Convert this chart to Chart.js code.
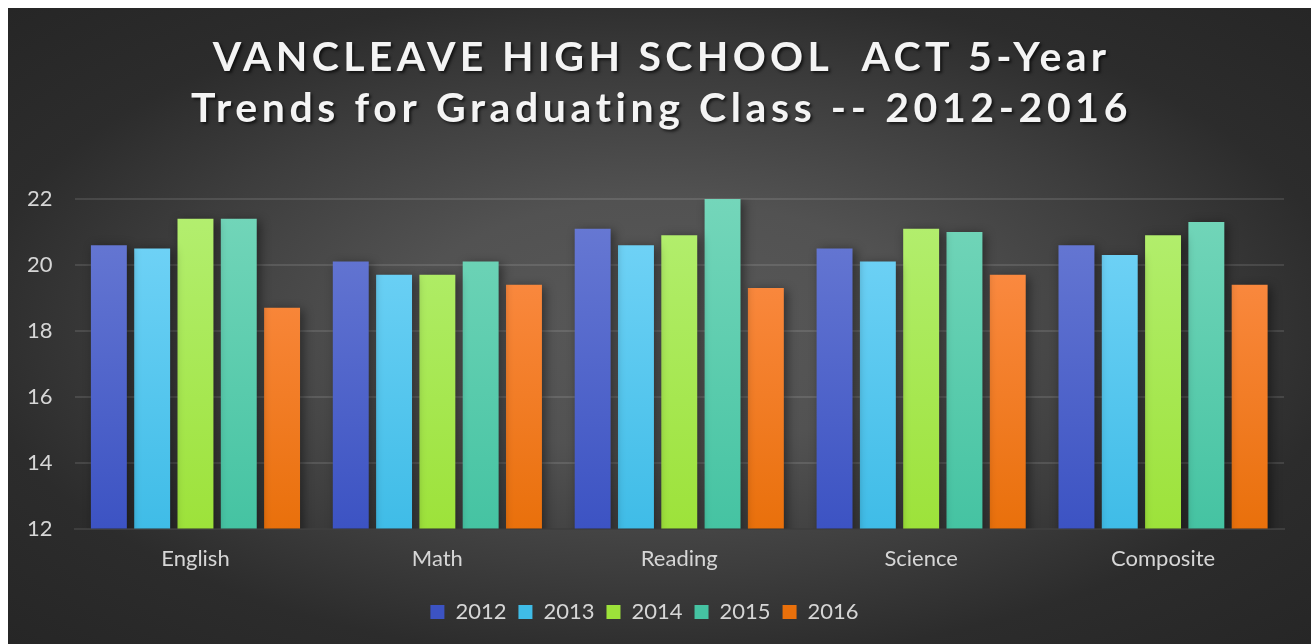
<!DOCTYPE html>
<html>
<head>
<meta charset="utf-8">
<script src="https://cdn.jsdelivr.net/npm/chart.js@4.4.1/dist/chart.umd.min.js"></script>
<style>
  html, body { margin: 0; padding: 0; background: #ffffff; }
  #panel {
    position: absolute; left: 8px; top: 8px; width: 1303px; height: 636px;
    background: radial-gradient(ellipse farthest-corner at 50% 50%, #585858 0%, #525252 28%, #3d3d3d 55%, #2c2c2c 75%, #262626 100%);
  }
  canvas { display: block; }
</style>
</head>
<body>
<div id="panel"><canvas id="chart" width="1303" height="636"></canvas></div>
<script>
// ACT average scores by subject, one series per graduating class
const titleLines = ['VANCLEAVE HIGH SCHOOL  ACT 5-Year', 'Trends for Graduating Class -- 2012-2016'];
const subjects = ['English', 'Math', 'Reading', 'Science', 'Composite'];
const years = ['2012', '2013', '2014', '2015', '2016'];
const scores2012 = [20.6, 20.1, 21.1, 20.5, 20.6];
const scores2013 = [20.5, 19.7, 20.6, 20.1, 20.3];
const scores2014 = [21.4, 19.7, 20.9, 21.1, 20.9];
const scores2015 = [21.4, 20.1, 22.0, 21.0, 21.3];
const scores2016 = [18.7, 19.4, 19.3, 19.7, 19.4];
const yTicks = [12, 14, 16, 18, 20, 22];

// top / bottom shades of each series' vertical gradient
const shades = [
  ['#6a7bd4', '#3c53c3'],
  ['#76d5f8', '#3fbce7'],
  ['#b4ef72', '#9de23a'],
  ['#74d6ba', '#45c3a2'],
  ['#ff904f', '#e9700b']
];

function gradientFill(i) {
  return (ctx) => {
    const chart = ctx.chart;
    const area = chart.chartArea;
    if (!area) return shades[i][1];
    const g = chart.ctx.createLinearGradient(0, area.top, 0, area.bottom);
    g.addColorStop(0, shades[i][0]);
    g.addColorStop(1, shades[i][1]);
    return g;
  };
}

const seriesValues = [scores2012, scores2013, scores2014, scores2015, scores2016];
const datasets = years.map((y, i) => ({
  label: y,
  data: seriesValues[i],
  backgroundColor: gradientFill(i),
  borderWidth: 0,
  categoryPercentage: 0.895,
  barPercentage: 0.83
}));

// soft drop shadow behind bars
const barShadow = {
  id: 'barShadow',
  beforeDatasetsDraw(chart) {
    const c = chart.ctx;
    c.save();
    c.shadowColor = 'rgba(0,0,0,0.45)';
    c.shadowBlur = 10;
    c.shadowOffsetX = 3;
    c.shadowOffsetY = 2;
  },
  afterDatasetsDraw(chart) {
    chart.ctx.restore();
  }
};

// two-line letter-spaced heading with a shadow
const heading = {
  id: 'heading',
  afterDraw(chart) {
    const c = chart.ctx;
    c.save();
    c.font = 'bold 41px Lato, "Open Sans", sans-serif';
    c.textAlign = 'center';
    c.textBaseline = 'alphabetic';
    c.fillStyle = '#f4f4f4';
    c.shadowColor = 'rgba(0,0,0,0.65)';
    c.shadowBlur = 3;
    c.shadowOffsetX = 2;
    c.shadowOffsetY = 2;
    const cx = chart.width / 2 + 2;
    c.letterSpacing = '4.3px';
    c.fillText(titleLines[0], cx, 63);
    c.letterSpacing = '4.6px';
    c.fillText(titleLines[1], cx, 114);
    c.restore();
  }
};

new Chart(document.getElementById('chart'), {
  type: 'bar',
  data: { labels: subjects, datasets },
  options: {
    responsive: false,
    animation: false,
    devicePixelRatio: 1,
    layout: { padding: { top: 191, left: -3, right: 27, bottom: 11 } },
    scales: {
      x: {
        grid: { display: false, drawTicks: false },
        border: { display: true, color: '#3e3e3e', width: 2 },
        ticks: { color: '#d6d6d6', font: { family: 'Lato, sans-serif', size: 22 }, padding: 17 }
      },
      y: {
        min: 12,
        max: 22,
        afterBuildTicks(scale) { scale.ticks = yTicks.map(v => ({ value: v })); },
        grid: { color: 'rgba(255,255,255,0.11)', lineWidth: 2, drawTicks: false },
        border: { display: false },
        ticks: { color: '#d6d6d6', font: { family: 'Lato, sans-serif', size: 22 }, padding: 22 }
      }
    },
    plugins: {
      title: { display: false },
      tooltip: { enabled: false },
      legend: {
        position: 'bottom',
        labels: {
          color: '#d6d6d6',
          font: { family: 'Lato, sans-serif', size: 22 },
          boxWidth: 14,
          boxHeight: 14,
          padding: 12
        }
      }
    }
  },
  plugins: [barShadow, heading]
});
</script>
</body>
</html>
